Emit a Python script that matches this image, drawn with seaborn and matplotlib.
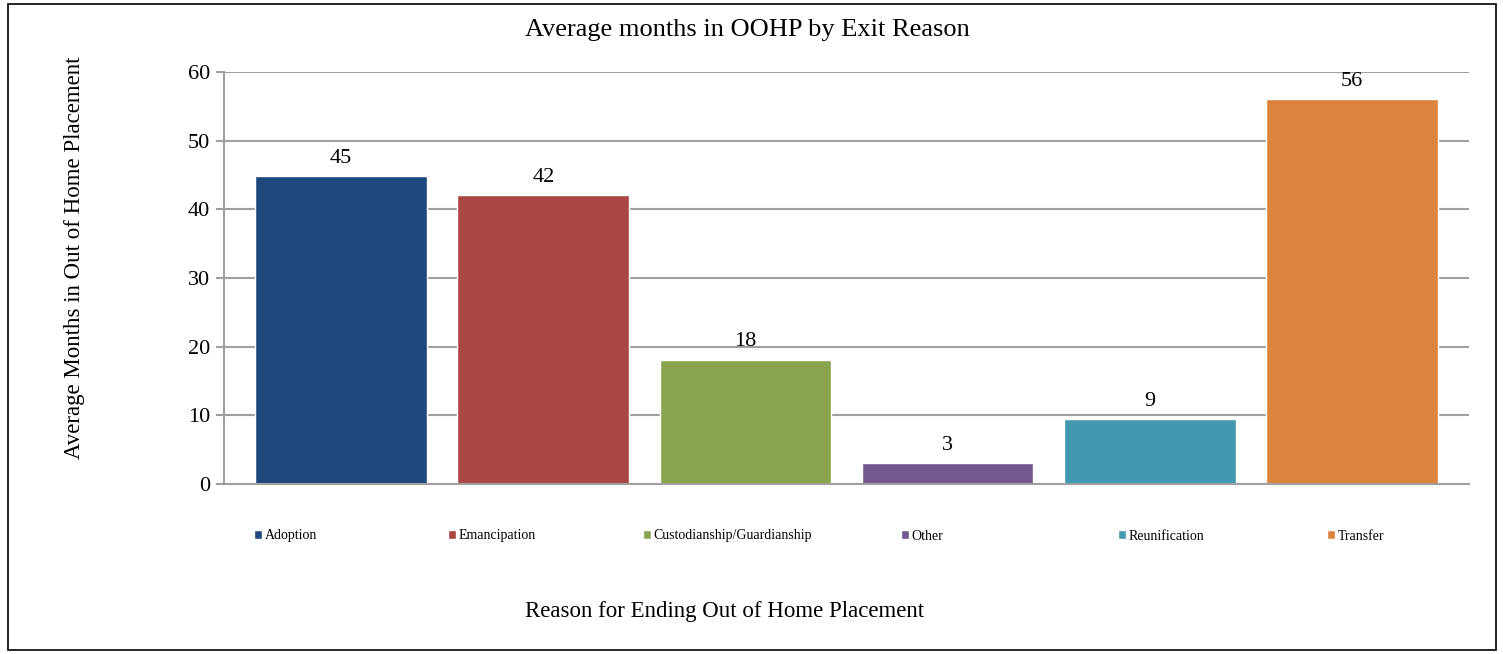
import numpy as np
import pandas as pd
import matplotlib
matplotlib.use("Agg")
import matplotlib.pyplot as plt
from matplotlib.patches import Rectangle
import seaborn as sns

# data
reasons = ["Adoption", "Emancipation", "Custodianship/Guardianship",
           "Other", "Reunification", "Transfer"]
avg_months = [44.8, 42.1, 18.1, 3.0, 9.4, 56.0]
bar_colors = ["#1F497D", "#AA4643", "#89A54E", "#71588F", "#4198AF", "#DB843D"]

# left edge (px) of each legend entry, Excel spaces them unevenly
legend_x = [254, 448, 643, 901, 1118, 1327]

df = pd.DataFrame({"reason": reasons, "months": avg_months})

sns.set_theme(style="white")
plt.rcParams["font.family"] = ["Liberation Serif", "DejaVu Serif"]
plt.rcParams["text.color"] = "black"
plt.rcParams["ytick.labelcolor"] = "black"
plt.rcParams["axes.labelcolor"] = "black"

fig = plt.figure(figsize=(15.03, 6.54), dpi=100)
ax = fig.add_axes([224 / 1503, 1 - 484 / 654, 1245 / 1503, 412 / 654])

sns.barplot(data=df, x="reason", y="months", hue="reason",
            palette=bar_colors, width=0.85, legend=False, ax=ax,
            saturation=1)

for c in ax.containers:
    ax.bar_label(c, fmt="%.0f", padding=6, fontsize=16, color="black")

ax.set_ylim(0, 60)
ax.set_yticks(np.arange(0, 61, 10))
ax.set_xlim(-0.58, 5.58)
ax.yaxis.grid(True, color="#A0A0A0", linewidth=1.5)
ax.set_axisbelow(True)
ax.tick_params(axis="y", labelsize=16, length=6, width=1.5, color="#A0A0A0",
               left=True, pad=4, labelcolor="black")
ax.tick_params(axis="x", bottom=False, labelbottom=False)
for side in ["top", "right"]:
    ax.spines[side].set_visible(False)
for side in ["left", "bottom"]:
    ax.spines[side].set_color("#A0A0A0")
    ax.spines[side].set_linewidth(1.5)

ax.set_xlabel("")
ax.set_ylabel("Average Months in Out of Home Placement", fontsize=16.5,
              color="black")
ax.yaxis.set_label_coords(-0.112, 0.55)

fig.text(0.497, 1 - 30 / 654, "Average months in OOHP by Exit Reason",
         ha="center", va="center", fontsize=19, color="black")
fig.text(725 / 1503, 1 - 612 / 654, "Reason for Ending Out of Home Placement",
         ha="center", va="center", fontsize=16.5, color="black")

# one small legend per entry so each sits where Excel put it
for c, name, x in zip(ax.containers, reasons, legend_x):
    leg = fig.legend([c.patches[0]], [name], loc="center left",
                     bbox_to_anchor=(x / 1503, 1 - 536 / 654),
                     frameon=False, fontsize=10, handlelength=0.6,
                     handleheight=0.6, handletextpad=0.15,
                     borderpad=0, borderaxespad=0)

fig.patches.append(Rectangle((8 / 1503, 4 / 654), 1488 / 1503, 646 / 654,
                             transform=fig.transFigure, fill=False,
                             edgecolor="black", linewidth=1.2))

fig.savefig("out.png", dpi=100)
